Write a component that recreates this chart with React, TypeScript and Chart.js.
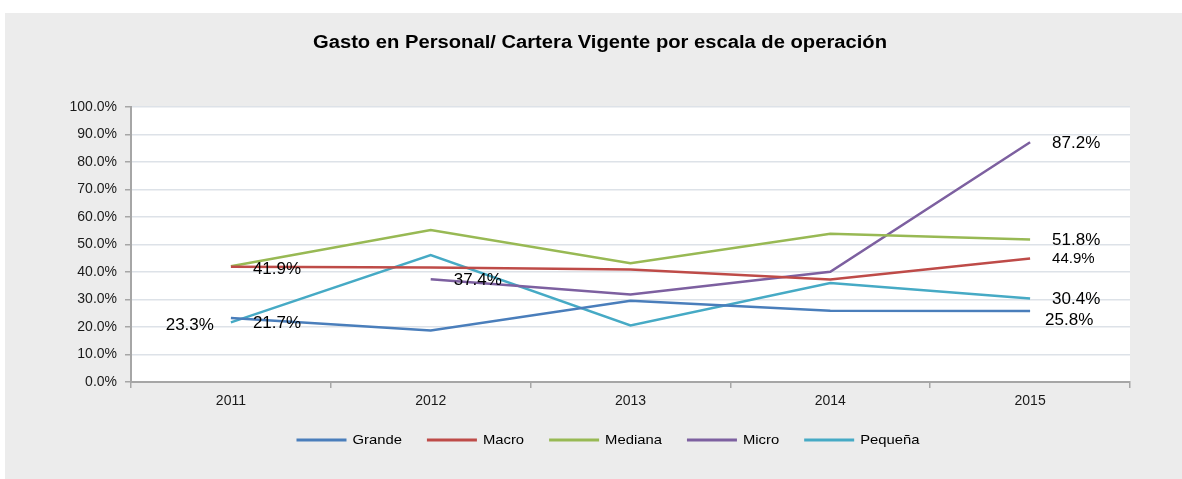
import { useEffect, useRef } from "react";
import { Chart, registerables } from "chart.js";

Chart.register(...registerables);

const years = ["2011", "2012", "2013", "2014", "2015"];
const grande = [23.3, 18.7, 29.5, 25.9, 25.8];
const macro = [41.9, 41.6, 40.9, 37.3, 44.9];
const mediana = [42.1, 55.3, 43.2, 53.9, 51.8];
const micro = [null, 37.4, 31.8, 40.1, 87.2];
const pequena = [21.7, 46.2, 20.6, 36.0, 30.4];
const seriesNames = ["Grande", "Macro", "Mediana", "Micro", "Pequeña"];
const seriesColors = ["#4a7ebb", "#be4b48", "#98b954", "#7d60a0", "#46aac5"];
const chartTitle = "Gasto en Personal/ Cartera Vigente por escala de operación";

// labelled points: [seriesIndex, pointIndex]
const labelledPoints: [number, number][] = [
  [0, 0], [4, 0], [1, 0], [3, 1], [3, 4], [2, 4], [1, 4], [4, 4], [0, 4],
];

const FONT = '"Liberation Sans", Arial, sans-serif';

// placement style of each label (not data)
const labelStyle: Record<string, { align: CanvasTextAlign; dx: number; dy: number; size: number }> = {
  "0-0": { align: "right", dx: -17, dy: 7, size: 17 },
  "4-0": { align: "left", dx: 22, dy: 1, size: 17 },
  "1-0": { align: "left", dx: 22, dy: 3, size: 17 },
  "3-1": { align: "left", dx: 23, dy: 1, size: 17 },
  "3-4": { align: "left", dx: 22, dy: 1, size: 17 },
  "2-4": { align: "left", dx: 22, dy: 1, size: 17 },
  "1-4": { align: "left", dx: 22, dy: 0, size: 15 },
  "4-4": { align: "left", dx: 22, dy: 1, size: 17 },
  "0-4": { align: "left", dx: 15, dy: 9, size: 17 },
};

function stretchedText(ctx: CanvasRenderingContext2D, text: string, x: number, y: number, sx: number) {
  ctx.save();
  ctx.translate(x, y);
  ctx.scale(sx, 1);
  ctx.fillText(text, 0, 0);
  ctx.restore();
}

export default function App() {
  const ref = useRef<HTMLCanvasElement | null>(null);

  useEffect(() => {
    if (!ref.current) return;
    const allSeries = [grande, macro, mediana, micro, pequena];

    const decor = {
      id: "decor",
      beforeDraw(chart: any) {
        const { ctx, chartArea } = chart;
        ctx.save();
        ctx.fillStyle = "#ffffff";
        ctx.fillRect(0, 0, chart.width, chart.height);
        ctx.fillStyle = "#ececec";
        ctx.fillRect(5, 13, chart.width - 5, chart.height - 13);
        ctx.fillStyle = "#ffffff";
        ctx.fillRect(chartArea.left, chartArea.top, chartArea.right - chartArea.left, chartArea.bottom - chartArea.top);
        ctx.restore();
      },
      afterDatasetsDraw(chart: any) {
        const { ctx } = chart;
        ctx.save();
        ctx.fillStyle = "#000000";
        ctx.textBaseline = "middle";
        labelledPoints.forEach(([s, i]) => {
          const v = allSeries[s][i];
          if (v == null) return;
          const pt = chart.getDatasetMeta(s).data[i];
          const st = labelStyle[`${s}-${i}`];
          ctx.font = `${st.size}px ${FONT}`;
          ctx.textAlign = st.align;
          ctx.fillText(`${(v as number).toFixed(1)}%`, pt.x + st.dx, pt.y + st.dy);
        });
        ctx.restore();
      },
      afterDraw(chart: any) {
        const { ctx } = chart;
        ctx.save();
        // title
        ctx.fillStyle = "#000000";
        ctx.font = `bold 18px ${FONT}`;
        ctx.textAlign = "center";
        ctx.textBaseline = "alphabetic";
        const tw = ctx.measureText(chartTitle).width;
        stretchedText(ctx, chartTitle, 600, 48, 574 / tw);
        // legend
        const sx = 1.14;
        ctx.font = `13px ${FONT}`;
        ctx.textBaseline = "middle";
        ctx.textAlign = "left";
        const lineLen = 50;
        const gapText = 6;
        const gapItem = 25;
        const widths = seriesNames.map((n) => ctx.measureText(n).width * sx);
        const total =
          widths.reduce((a, w) => a + lineLen + gapText + w, 0) + gapItem * (seriesNames.length - 1);
        let x = 608 - total / 2;
        const y = 440;
        seriesNames.forEach((n, k) => {
          ctx.strokeStyle = seriesColors[k];
          ctx.lineWidth = 3;
          ctx.beginPath();
          ctx.moveTo(x, y);
          ctx.lineTo(x + lineLen, y);
          ctx.stroke();
          ctx.fillStyle = "#000000";
          stretchedText(ctx, n, x + lineLen + gapText, y, sx);
          x += lineLen + gapText + widths[k] + gapItem;
        });
        ctx.restore();
      },
    };

    const chart = new Chart(ref.current, {
      type: "line",
      data: {
        labels: years,
        datasets: allSeries.map((d, k) => ({
          label: seriesNames[k],
          data: d as any,
          borderColor: seriesColors[k],
          backgroundColor: seriesColors[k],
          borderWidth: 2.5,
          pointRadius: 0,
          pointHoverRadius: 0,
          tension: 0,
          spanGaps: false,
          fill: false,
        })),
      },
      options: {
        responsive: false,
        animation: false,
        devicePixelRatio: 1,
        layout: { padding: { top: 107, right: 52, bottom: 67, left: 0 } },
        plugins: {
          legend: { display: false },
          title: { display: false },
          tooltip: { enabled: false },
        },
        scales: {
          x: {
            offset: true,
            grid: {
              offset: true,
              drawOnChartArea: false,
              drawTicks: true,
              tickLength: 6,
              tickColor: "#a6a6a6",
              lineWidth: 1.5,
            },
            border: { color: "#a6a6a6", width: 2 },
            ticks: { color: "#1a1a1a", font: { family: FONT, size: 14 }, padding: 5 },
            afterFit(scale: any) {
              scale.height = 30;
            },
          },
          y: {
            min: 0,
            max: 100,
            ticks: {
              stepSize: 10,
              color: "#1a1a1a",
              font: { family: FONT, size: 14 },
              padding: 8,
              callback: (v: any) => `${Number(v).toFixed(1)}%`,
            },
            grid: {
              color: "#dde2e8",
              lineWidth: 1.5,
              tickLength: 6,
              tickColor: "#a6a6a6",
            },
            border: { color: "#a6a6a6", width: 2 },
            afterFit(scale: any) {
              scale.width = 131;
            },
          },
        },
      },
      plugins: [decor],
    });
    return () => chart.destroy();
  }, []);

  return (
    <div style={{ position: "absolute", left: 0, top: 0, width: 1182, height: 479 }}>
      <canvas ref={ref} width={1182} height={479} />
    </div>
  );
}
